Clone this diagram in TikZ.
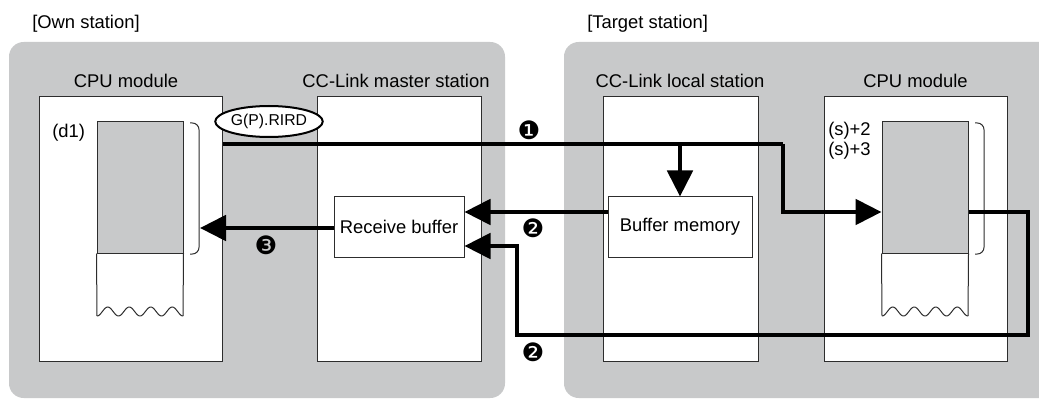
\documentclass[tikz,border=0pt]{standalone}
\usepackage{fontspec}
\setmainfont{Liberation Sans}
\newfontfamily\dingfont{DejaVu Sans}
\usetikzlibrary{arrows.meta,shapes.geometric}
\definecolor{stgray}{RGB}{200,201,202}
\definecolor{edge}{RGB}{45,45,45}
\tikzset{
  station/.style={fill=stgray,draw=none,rounded corners=11pt},
  modbox/.style={draw=edge,fill=white,line width=0.75pt,minimum height=198pt,inner sep=0pt},
  bufbox/.style={draw=edge,fill=white,line width=0.75pt,minimum height=45pt,inner sep=0pt,font=\fontsize{13.8pt}{16pt}\selectfont},
  membox/.style={draw=edge,fill=stgray,line width=0.75pt,minimum width=64.5pt,minimum height=98.25pt,inner sep=0pt},
  lbl/.style={font=\fontsize{13.8pt}{16pt}\selectfont,inner sep=0pt,anchor=base},
  lbll/.style={lbl,anchor=base west},
  num/.style={font=\dingfont\fontsize{19pt}{20pt}\selectfont,inner sep=0pt},
  flow/.style={line width=3pt,-{Triangle[length=19.5pt,width=19pt]}},
  flowline/.style={line width=3pt},
  thin/.style={draw=edge,line width=0.75pt},
}
\begin{document}
\begin{tikzpicture}[x=0.75pt,y=-0.75pt]
\useasboundingbox (0,0) rectangle (1039,399);
% station backgrounds
\fill[station] (9,42) rectangle (505,398);
\fill[station] (564,42) rectangle (1060,398);
\node[lbll] (ownlbl) at (32,29) {[Own station]};
\node[lbll] (tgtlbl) at (587,29) {[Target station]};
% module boxes
\node[modbox,minimum width=137.25pt] (ocpu) at (130.5,229) {};
\node[modbox,minimum width=123pt] (mst) at (399,229) {};
\node[modbox,minimum width=116.25pt] (loc) at (680.5,229) {};
\node[modbox,minimum width=137.25pt] (tcpu) at (915.5,229) {};
\node[lbl] (ocput) at (126,88) {CPU module};
\node[lbl] (mstt) at (396,88) {CC-Link master station};
\node[lbl] (loct) at (680,88) {CC-Link local station};
\node[lbl] (tcput) at (915.5,88) {CPU module};
% buffers
\node[bufbox,minimum width=97.5pt] (rb) at (399,227) {Receive buffer};
\node[bufbox,minimum width=108pt] (bm) at (680,227) {Buffer memory};
% device memory blocks
\node[membox] (omem) at (140,187.5) {};
\node[membox] (tmem) at (925,187.5) {};
\draw[thin] (omem.south west) -- (97,316);
\draw[thin] (omem.south east) -- (183,316);
\draw[thin] plot[domain=0:4,samples=120,smooth] ({97+21.5*\x},{311.5+4.5*cos(360*\x)});
\draw[thin] (tmem.south west) -- (882,316);
\draw[thin] (tmem.south east) -- (968,316);
\draw[thin] plot[domain=0:4,samples=120,smooth] ({882+21.5*\x},{311.5+4.5*cos(360*\x)});
% brackets
\draw[thin,rounded corners=5pt] (190,123) -- (199,123) -- (199,254) -- (190,254);
\draw[thin,rounded corners=5pt] (975,123) -- (984,123) -- (984,254) -- (975,254);
\coordinate (obr) at (200,228);
% labels in CPU modules
\node[lbll] (d1) at (52,138) {(d1)};
\node[lbll] (s2) at (828,136) {(s)+2};
\node[lbll] (s3) at (828,156) {(s)+3};
% instruction ellipse
\node[ellipse,draw=black,fill=white,line width=1.5pt,minimum width=69pt,minimum height=23.25pt,inner sep=0pt,font=\fontsize{11.8pt}{13pt}\selectfont] (inst) at (269,121.5) {G(P).RIRD};
% flow 1
\coordinate (f1a) at (ocpu.east |- 0,144);
\coordinate (f1b) at (783,144);
\coordinate (f1c) at (783,212);
\coordinate (f1d) at (tmem.west |- 0,212);
\coordinate (f1e) at (bm.north |- 0,144);
\draw[flowline] (f1a) -- (f1b);
\draw[flow] (f1b) -- (f1c) -- (f1d);
\draw[flow] (f1e) -- (bm.north);
% flow 2 upper
\coordinate (f2a) at (bm.west |- 0,212);
\coordinate (f2b) at (rb.east |- 0,212);
\draw[flow] (f2a) -- (f2b);
% flow 2 lower
\coordinate (f3a) at (tmem.east |- 0,212);
\coordinate (f3b) at (1028,212);
\coordinate (f3c) at (1028,335);
\coordinate (f3d) at (517,335);
\coordinate (f3e) at (517,246);
\coordinate (f3f) at (rb.east |- 0,246);
\draw[flow,line join=miter] (f3a) -- (f3b) -- (f3c) -- (f3d) -- (f3e) -- (f3f);
% flow 3
\coordinate (f4a) at (rb.west |- 0,228);
\draw[flow] (f4a) -- (obr);
% numbers
\node[num] (n1) at (529,130) {❶};
\node[num] (n2a) at (533,228) {❷};
\node[num] (n2b) at (533,352) {❷};
\node[num] (n3) at (266,245) {❸};
\end{tikzpicture}
\end{document}
